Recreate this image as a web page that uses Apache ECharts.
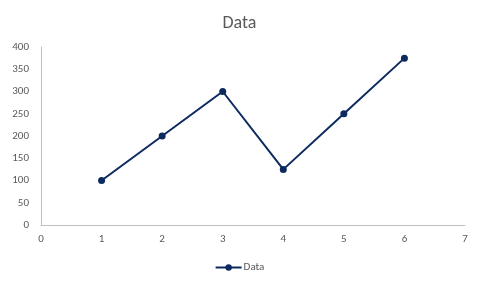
<!DOCTYPE html>
<html><head><meta charset="utf-8">
<script src="https://cdn.jsdelivr.net/npm/echarts@6/dist/echarts.min.js"></script>
<style>html,body{margin:0;padding:0;background:#fff}#c{width:479px;height:288px}</style>
</head><body><div id="c"></div>
<script>
var xValues = [1, 2, 3, 4, 5, 6];
var yValues = [100, 200, 300, 125, 250, 375];
var seriesName = 'Data';
var chartTitle = 'Data';

var chart = echarts.init(document.getElementById('c'), null, {renderer: 'canvas'});
var font = 'Calibri, Carlito, Lato, "Liberation Sans", sans-serif';
chart.setOption({
  animation: false,
  backgroundColor: '#fff',
  title: {text: chartTitle, left: 'center', top: 9, textStyle: {fontFamily: font, fontSize: 18, fontWeight: 'normal', color: '#595959'}},
  grid: {left: 41, right: 14, top: 47, bottom: 63},
  legend: {bottom: 10, left: 'center', itemWidth: 26, itemHeight: 8, itemGap: 5,
    textStyle: {fontFamily: font, fontSize: 11, color: '#595959', padding: [0, 0, 0, -3]},
    data: [seriesName]},
  xAxis: {type: 'value', min: 0, max: 7, interval: 1,
    axisLine: {show: true, lineStyle: {color: '#bfbfbf', width: 1}},
    axisTick: {show: false}, splitLine: {show: false},
    axisLabel: {fontFamily: font, fontSize: 11, color: '#595959', margin: 9}},
  yAxis: {type: 'value', min: 0, max: 400, interval: 50,
    axisLine: {show: true, lineStyle: {color: '#bfbfbf', width: 1}},
    axisTick: {show: false}, splitLine: {show: false},
    axisLabel: {fontFamily: font, fontSize: 11, color: '#595959', margin: 12}},
  series: [{
    name: seriesName, type: 'line',
    data: xValues.map(function(x, i){ return [x, yValues[i]]; }),
    symbol: 'circle', symbolSize: 7, showSymbol: true,
    lineStyle: {color: '#0d2a60', width: 2},
    itemStyle: {color: '#0d2a60'}
  }]
});
</script></body></html>
